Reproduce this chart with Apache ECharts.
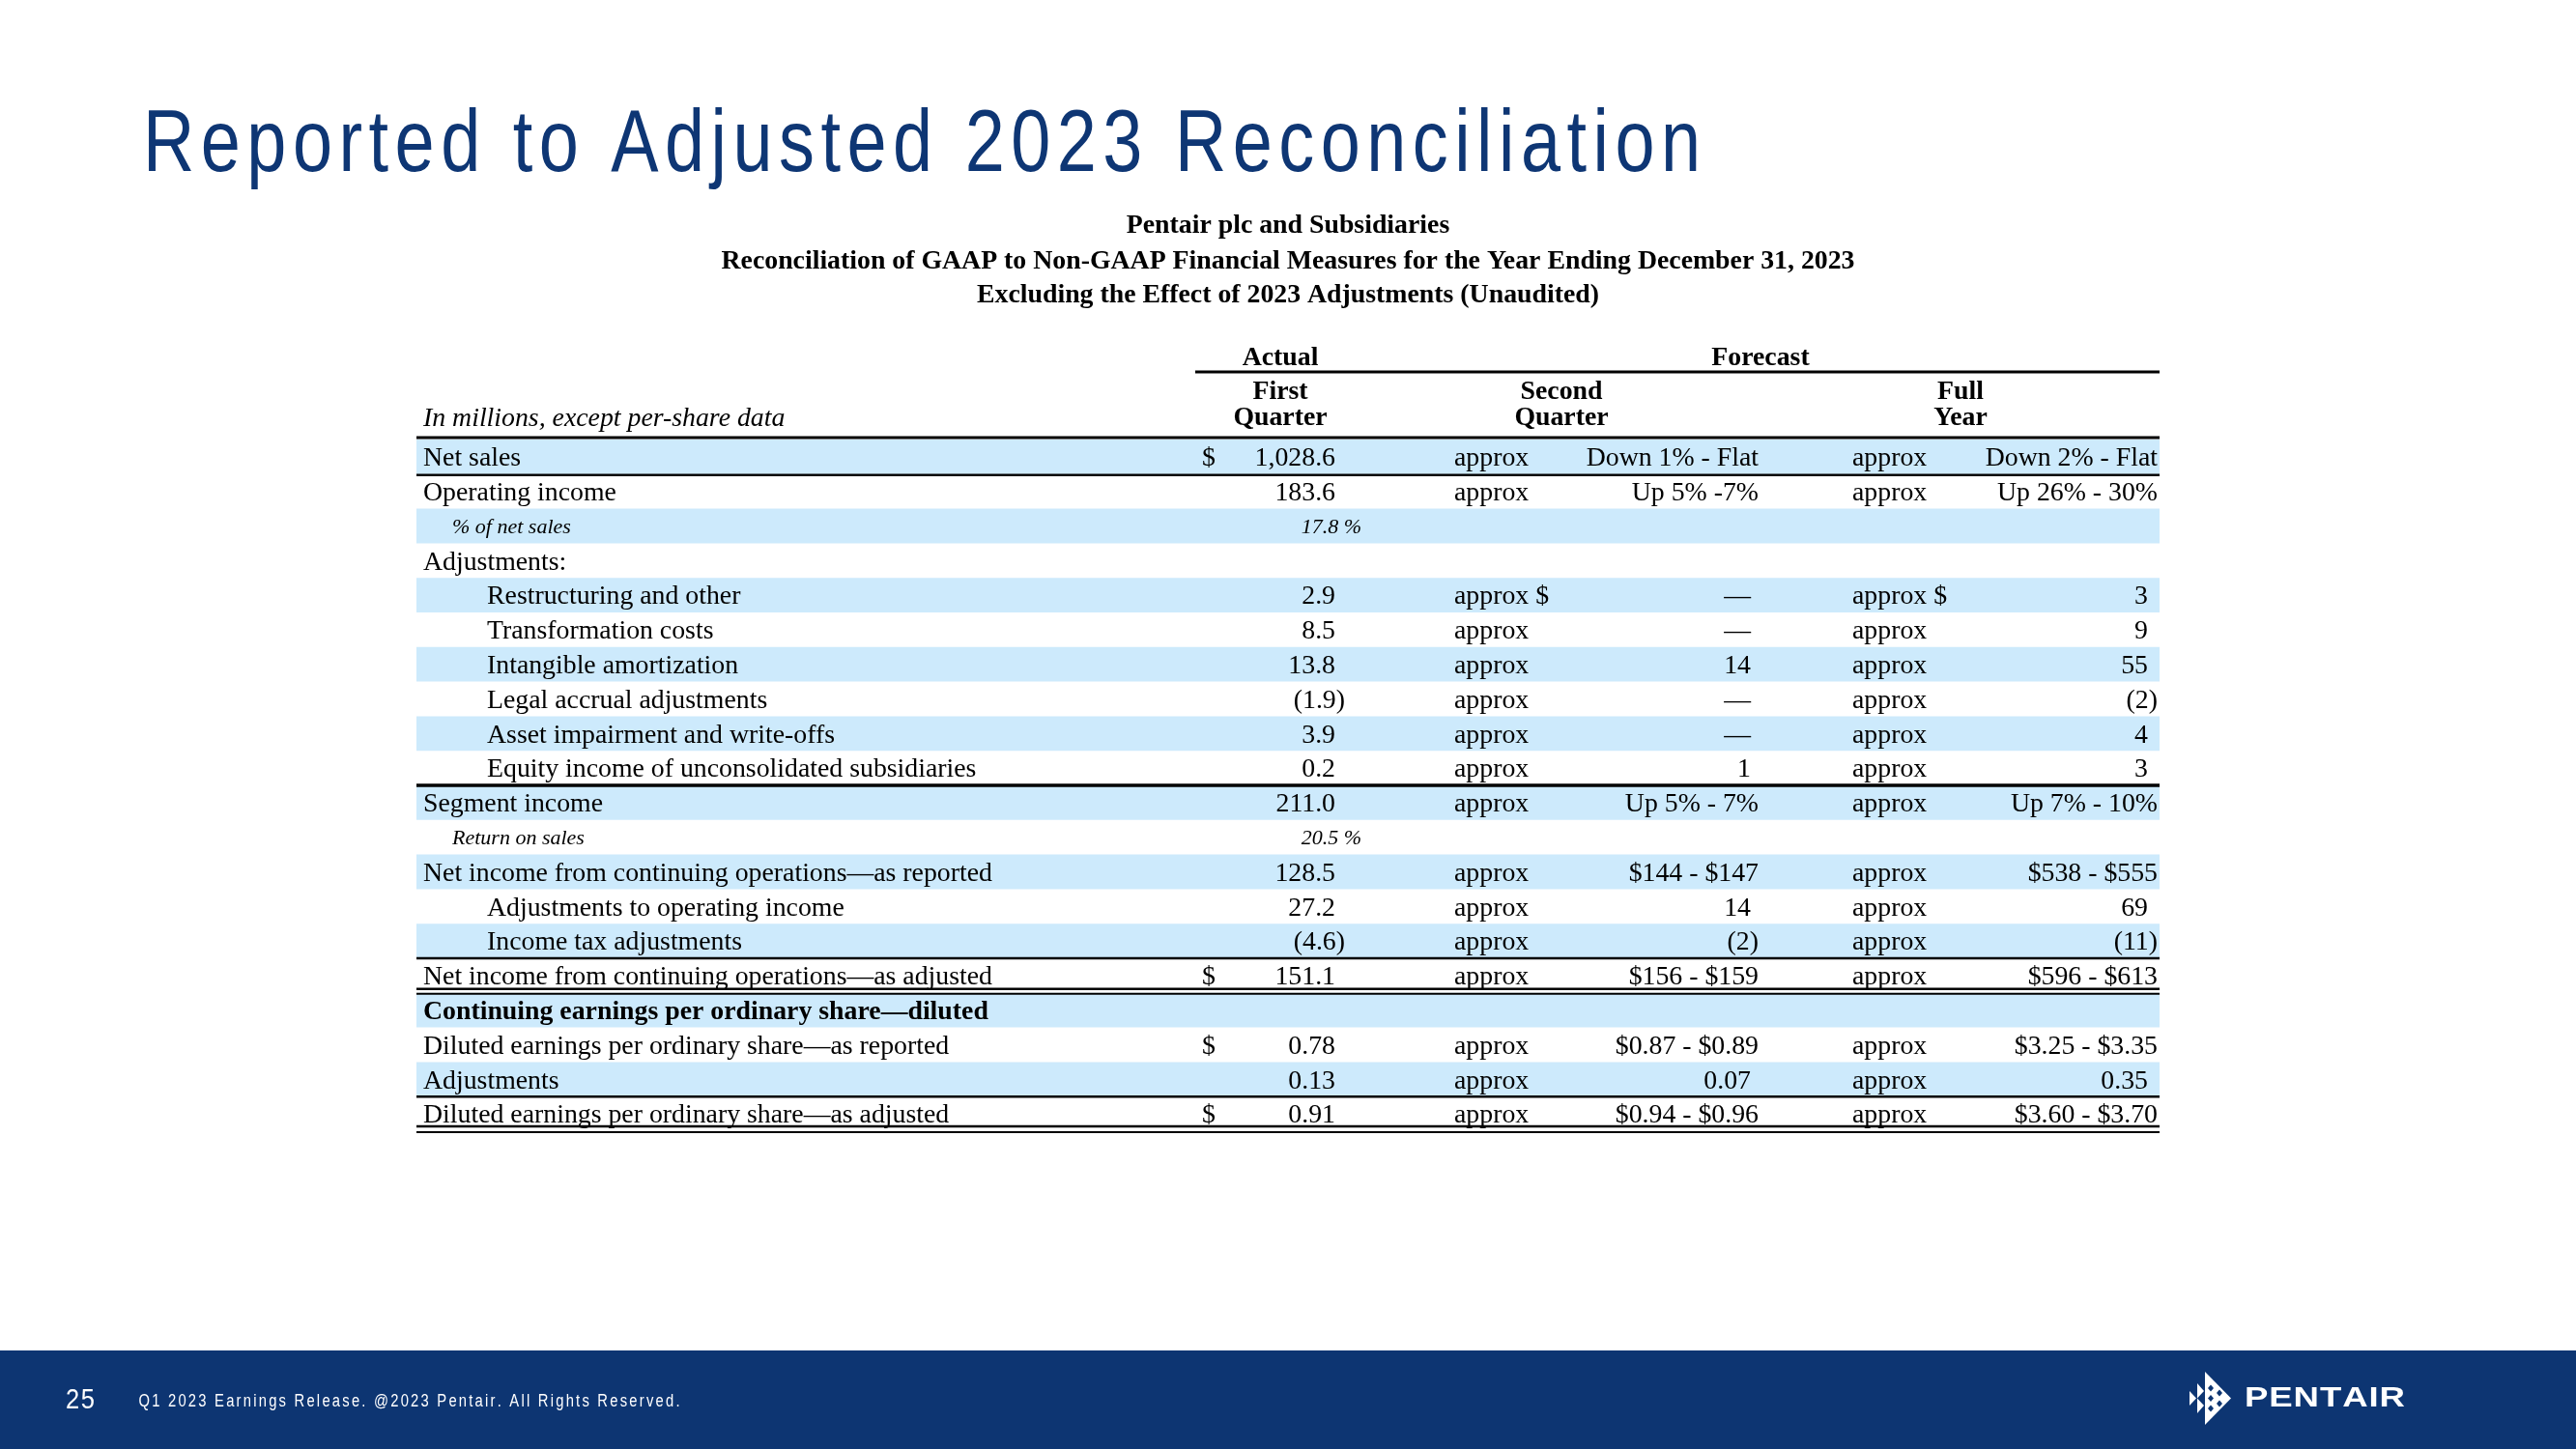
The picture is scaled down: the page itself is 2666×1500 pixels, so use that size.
<!DOCTYPE html>
<html>
<head>
<meta charset="utf-8">
<title>Reported to Adjusted 2023 Reconciliation</title>
<script src="https://cdn.jsdelivr.net/npm/echarts@6/dist/echarts.min.js"></script>
<style>
  html, body { margin: 0; padding: 0; background: #fff; }
  #chart { width: 2666px; height: 1500px; }
</style>
</head>
<body>
<div id="chart"></div>
<script>
// ---- table data ----
const rowLabels = [
  'Net sales',
  'Operating income',
  '% of net sales',
  'Adjustments:',
  'Restructuring and other',
  'Transformation costs',
  'Intangible amortization',
  'Legal accrual adjustments',
  'Asset impairment and write-offs',
  'Equity income of unconsolidated subsidiaries',
  'Segment income',
  'Return on sales',
  'Net income from continuing operations\u2014as reported',
  'Adjustments to operating income',
  'Income tax adjustments',
  'Net income from continuing operations\u2014as adjusted',
  'Continuing earnings per ordinary share\u2014diluted',
  'Diluted earnings per ordinary share\u2014as reported',
  'Adjustments',
  'Diluted earnings per ordinary share\u2014as adjusted'
]
// 0 = main line, 1 = indented, 2 = italic note, 3 = bold section
const rowLevels = [0, 0, 2, 0, 1, 1, 1, 1, 1, 1, 0, 2, 0, 1, 1, 0, 3, 0, 0, 0]

const firstQuarter = [
  '1,028.6', '183.6', '17.8 %', '', '2.9', '8.5', '13.8', '(1.9)', '3.9', '0.2',
  '211.0', '20.5 %', '128.5', '27.2', '(4.6)', '151.1', '', '0.78', '0.13', '0.91'
]
const firstQuarterDollarRows = [0, 15, 17, 19]

const secondQuarter = [
  'Down 1% - Flat', 'Up 5% -7%', '', '', '\u2014', '\u2014', '14', '\u2014', '\u2014', '1',
  'Up 5% - 7%', '', '$144 - $147', '14', '(2)', '$156 - $159', '', '$0.87 - $0.89', '0.07', '$0.94 - $0.96'
]
const fullYear = [
  'Down 2% - Flat', 'Up 26% - 30%', '', '', '3', '9', '55', '(2)', '4', '3',
  'Up 7% - 10%', '', '$538 - $555', '69', '(11)', '$596 - $613', '', '$3.25 - $3.35', '0.35', '$3.60 - $3.70'
]
const approxDollarRows = [4]

const titleText = 'Reported to Adjusted 2023 Reconciliation'
const subtitleLines = [
  'Pentair plc and Subsidiaries',
  'Reconciliation of GAAP to Non-GAAP Financial Measures for the Year Ending December 31, 2023',
  'Excluding the Effect of 2023 Adjustments (Unaudited)'
]
const footerText = 'Q1 2023 Earnings Release. @2023 Pentair. All Rights Reserved.'
const pageNumber = '25'

// ---- layout ----
const NAVY = '#0e3674'
const BAND = '#cdeafc'
const SERIF = "'Liberation Serif', 'Times New Roman', serif"
const SANS = "'Liberation Sans', Arial, sans-serif"
const TL = 431 // table left
const TW = 1804 // table width
const TOP = 455
const ROWH = 35.8
const DY = 2 // text baseline nudge

// column anchors, in table units (px from table left)
const COL = {
  label: 7, indent: 73, note: 37,
  q1Dollar: 813, q1Num: 951, q1Text: 961, q1Note: 978,
  q2Approx: 1074, q2Num: 1381, q2Text: 1389,
  fyApprox: 1486, fyNum: 1792, fyText: 1802
}

const isNumeric = s => /^[\d.,\u2014]+$/.test(s)

const measureCtx = document.createElement('canvas').getContext('2d')
function spacedText(str, x, y, font, scaleX, width, fill) {
  measureCtx.font = font
  const chars = Array.from(str)
  const widths = chars.map(ch => measureCtx.measureText(ch).width * scaleX)
  const natural = widths.reduce((a, b) => a + b, 0)
  const gap = (width - natural) / (chars.length - 1)
  const out = []
  let cx = x
  chars.forEach((ch, k) => {
    if (ch !== ' ') {
      out.push({ type: 'text', x: cx, y: y, scaleX: scaleX, silent: true,
        style: { text: ch, font: font, fill: fill, align: 'left', verticalAlign: 'middle' } })
    }
    cx += widths[k] + gap
  })
  return out
}

function txt(text, x, y, font, align, fill) {
  return { type: 'text', x: x, y: y, silent: true, z2: 5,
    style: { text: text, font: font, fill: fill || '#000', align: align || 'left', verticalAlign: 'middle' } }
}

const F_REG = '27.8px ' + SERIF
const F_BOLD = 'bold 27.8px ' + SERIF
const F_ITAL = 'italic 27.8px ' + SERIF
const F_NOTE = 'italic 22px ' + SERIF

// rules under rows: [offset from row bottom, line width]
const rowRules = {
  0: [[-ROWH - 2, 3], [1, 2.5]],
  9: [[0, 3.5]],
  14: [[0, 2.5]],
  15: [[-4, 2.5], [1, 2]],
  18: [[0, 2.5]],
  19: [[-5, 2.5], [1, 2]]
}

function renderItem(params, api) {
  const i = api.value(1)
  const c = api.coord([0, i])
  const h = api.size([0, 1])[1]
  const X = v => api.coord([v, i])[0]
  const yc = c[1]
  const ty = yc + DY
  const top = yc - h / 2
  const bottom = yc + h / 2
  const kids = []
  const level = rowLevels[i]

  if (i % 2 === 0) {
    kids.push({ type: 'rect', shape: { x: X(0), y: top, width: X(TW) - X(0), height: h },
      style: { fill: BAND }, z2: 0 })
  }

  // label
  const lx = level === 1 ? COL.indent : level === 2 ? COL.note : COL.label
  const lf = level === 2 ? F_NOTE : level === 3 ? F_BOLD : F_REG
  kids.push(txt(rowLabels[i], X(lx), ty, lf))

  // first quarter (actual)
  const q1 = firstQuarter[i]
  if (firstQuarterDollarRows.indexOf(i) >= 0) {
    kids.push(txt('$', X(COL.q1Dollar), ty, F_REG))
  }
  if (q1) {
    if (level === 2) {
      kids.push(txt(q1, X(COL.q1Note), ty, F_NOTE, 'right'))
    } else {
      const ax = q1.slice(-1) === ')' ? COL.q1Text : COL.q1Num
      kids.push(txt(q1, X(ax), ty, F_REG, 'right'))
    }
  }

  // forecast columns
  const approx = approxDollarRows.indexOf(i) >= 0 ? 'approx $' : 'approx'
  const q2 = secondQuarter[i]
  if (q2) {
    kids.push(txt(approx, X(COL.q2Approx), ty, F_REG))
    kids.push(txt(q2, X(isNumeric(q2) ? COL.q2Num : COL.q2Text), ty, F_REG, 'right'))
  }
  const fy = fullYear[i]
  if (fy) {
    kids.push(txt(approx, X(COL.fyApprox), ty, F_REG))
    kids.push(txt(fy, X(isNumeric(fy) ? COL.fyNum : COL.fyText), ty, F_REG, 'right'))
  }

  ;(rowRules[i] || []).forEach(r => {
    kids.push({ type: 'line', z2: 10,
      shape: { x1: X(0), y1: bottom + r[0], x2: X(TW), y2: bottom + r[0] },
      style: { stroke: '#000', lineWidth: r[1] } })
  })

  return { type: 'group', children: kids }
}

// ---- header, title, footer (graphic) ----
const graphics = []
graphics.push(...spacedText(titleText, 148, 152, '90px ' + SANS, 0.82, 1612, NAVY))
subtitleLines.forEach((s, k) => {
  graphics.push(txt(s, 1333, [234, 271, 306][k], F_BOLD, 'center'))
})
graphics.push(txt('Actual', TL + 894, 371, F_BOLD, 'center'))
graphics.push(txt('Forecast', TL + 1391, 371, F_BOLD, 'center'))
graphics.push({ type: 'line', silent: true, shape: { x1: TL + 806, y1: 385, x2: TL + TW, y2: 385 },
  style: { stroke: '#000', lineWidth: 3 } })
;[['First', 894], ['Second', 1185], ['Full', 1598]].forEach(p => graphics.push(txt(p[0], TL + p[1], 406, F_BOLD, 'center')))
;[['Quarter', 894], ['Quarter', 1185], ['Year', 1598]].forEach(p => graphics.push(txt(p[0], TL + p[1], 433, F_BOLD, 'center')))
graphics.push(txt('In millions, except per-share data', TL + COL.label, 434, F_ITAL))

// footer band
graphics.push({ type: 'rect', silent: true, shape: { x: 0, y: 1398, width: 2666, height: 102 }, style: { fill: '#0d3572' } })
graphics.push(...spacedText(pageNumber, 68, 1450, '30px ' + SANS, 0.85, 30, '#fff'))
graphics.push(...spacedText(footerText, 143.5, 1451, '18px ' + SANS, 0.82, 560, '#fff'))
graphics.push(...spacedText('PENTAIR', 2323, 1448, 'bold 30px ' + SANS, 1.22, 166, '#fff'))
// logo mark
const logoPolys = [
  [[2282, 1420], [2309, 1447.5], [2282, 1475]],
  [[2266, 1440], [2273, 1447.5], [2266, 1455]],
  [[2274, 1432], [2281, 1440], [2274, 1447.5]],
  [[2274, 1447.5], [2281, 1455], [2274, 1463]]
]
logoPolys.forEach(p => graphics.push({ type: 'polygon', silent: true, shape: { points: p }, style: { fill: '#fff' } }))
;[[2288, 1437], [2288, 1447.5], [2288, 1458], [2297, 1442], [2297, 1453]].forEach(d => {
  graphics.push({ type: 'polygon', silent: true,
    shape: { points: [[d[0] - 3, d[1]], [d[0], d[1] - 3.5], [d[0] + 3, d[1]], [d[0], d[1] + 3.5]] },
    style: { fill: '#0d3572' } })
})

const chart = echarts.init(document.getElementById('chart'), null, { renderer: 'canvas' })
chart.setOption({
  animation: false,
  backgroundColor: '#fff',
  grid: { left: TL, width: TW, top: TOP, height: ROWH * rowLabels.length },
  xAxis: { type: 'value', min: 0, max: TW, show: false },
  yAxis: { type: 'category', data: rowLabels, inverse: true, show: false },
  series: [{
    type: 'custom',
    silent: true,
    clip: false,
    renderItem: renderItem,
    data: rowLabels.map((_, i) => [0, i])
  }],
  graphic: graphics
})
</script>
</body>
</html>
